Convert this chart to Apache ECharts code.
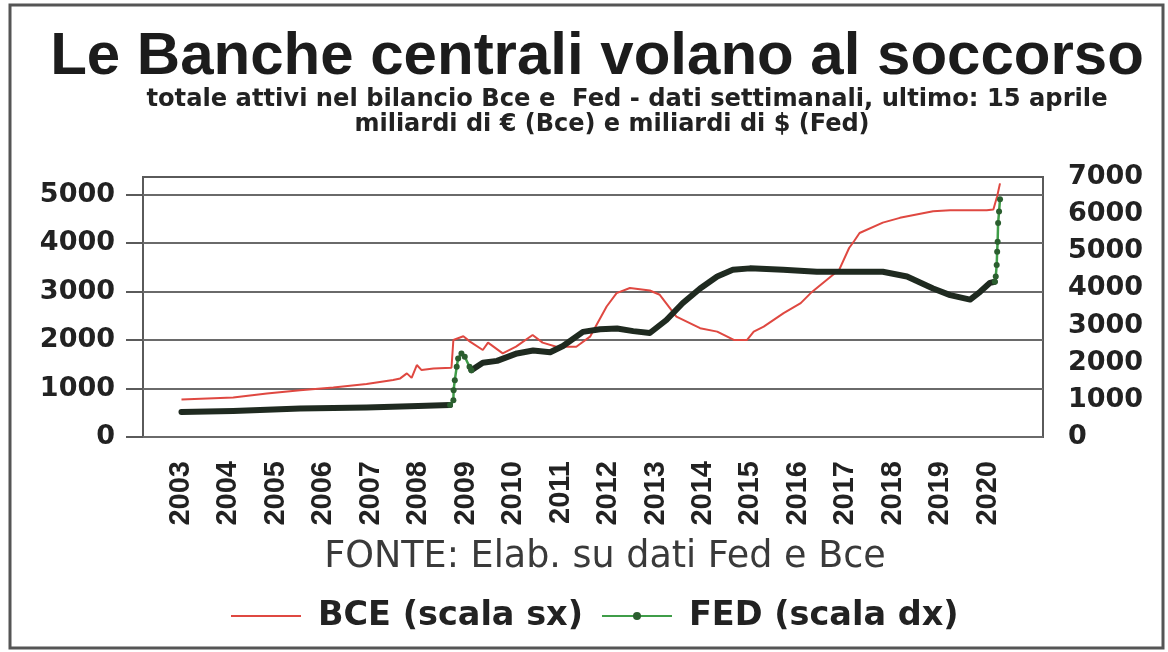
<!DOCTYPE html>
<html>
<head>
<meta charset="utf-8">
<title>Le Banche centrali volano al soccorso</title>
<script src="https://cdn.jsdelivr.net/npm/echarts@6/dist/echarts.min.js"></script>
<style>
  html, body { margin: 0; padding: 0; background: #fff; }
  #chart { width: 1168px; height: 652px; }
</style>
</head>
<body>
<div id="chart"></div>
<script>
// Etichette dell'asse x (anni) e dei due assi y
const yearTicks = [2003, 2004, 2005, 2006, 2007, 2008, 2009, 2010, 2011, 2012,
                   2013, 2014, 2015, 2016, 2017, 2018, 2019, 2020];
const leftTicks = [0, 1000, 2000, 3000, 4000, 5000];

// BCE - miliardi di euro (scala sx)
const bceYears = [2003.01, 2004.10, 2004.81, 2005.51, 2006.21, 2006.91, 2007.47, 2007.62, 2007.76, 2007.86,
                  2007.97, 2008.07, 2008.32, 2008.70, 2008.74, 2008.95, 2009.09, 2009.36, 2009.47, 2009.78,
                  2010.06, 2010.41, 2010.62, 2010.91, 2011.33, 2011.62, 2011.97, 2012.18, 2012.46, 2012.88,
                  2013.09, 2013.44, 2013.94, 2014.30, 2014.65, 2014.93, 2015.07, 2015.28, 2015.70, 2016.06,
                  2016.27, 2016.87, 2017.08, 2017.19, 2017.30, 2017.79, 2018.15, 2018.85, 2019.21, 2019.98,
                  2020.12, 2020.20, 2020.26];
const bceValues = [775, 816, 898, 967, 1023, 1092, 1175, 1209, 1313, 1220,
                   1485, 1381, 1416, 1430, 2003, 2080, 1968, 1796, 1947, 1727,
                   1864, 2106, 1947, 1864, 1864, 2071, 2693, 2970, 3074, 3024,
                   2935, 2486, 2245, 2175, 2003, 2003, 2175, 2278, 2556, 2763,
                   2970, 3450, 3900, 4050, 4210, 4425, 4523, 4660, 4681, 4681,
                   4695, 4970, 5234];

// FED - miliardi di dollari (scala dx), tratti piatti (banda scura)
const fedEarlyYears = [2003.01, 2004.10, 2005.51, 2006.91, 2008.00, 2008.67];
const fedEarlyValues = [675, 700, 765, 795, 835, 860];
const fedMidYears = [2009.12, 2009.36, 2009.66, 2010.08, 2010.42, 2010.78, 2011.05, 2011.47, 2011.83, 2012.19,
                     2012.53, 2012.88, 2013.23, 2013.57, 2013.94, 2014.30, 2014.63, 2014.99, 2015.69, 2016.40,
                     2017.10, 2017.79, 2018.30, 2018.85, 2019.21, 2019.63, 2019.84, 2020.05, 2020.15];
const fedMidValues = [1800, 2000, 2050, 2250, 2330, 2280, 2450, 2830, 2900, 2920,
                      2850, 2800, 3150, 3600, 4000, 4320, 4500, 4540, 4500, 4450,
                      4450, 4450, 4320, 4000, 3820, 3700, 3910, 4150, 4180];
// FED - salti settimanali del 2008 e del 2020
const fedJump08Years = [2008.67, 2008.74, 2008.745, 2008.77, 2008.81, 2008.84, 2008.91, 2008.98, 2009.08, 2009.12];
const fedJump08Values = [860, 990, 1260, 1530, 1889, 2115, 2250, 2159, 1889, 1800];
const fedJump20Years = [2020.15, 2020.17, 2020.19, 2020.20, 2020.21, 2020.22, 2020.24, 2020.26];
const fedJump20Values = [4180, 4320, 4630, 4990, 5260, 5760, 6070, 6400];

function pairs(xs, ys) {
    return xs.map((x, i) => [x, ys[i]]);
}

// numeri senza separatore delle migliaia
const plain = (v) => String(Math.round(v));

const chart = echarts.init(document.getElementById('chart'));

const boldWide = 'DejaVu Sans';
const FED_NAME = 'FED (scala dx)';
const BCE_NAME = 'BCE (scala sx)';

// stile comune dei tratti ripidi della Fed (linea verde con punti)
const jumpSeries = (data) => ({
    name: FED_NAME,
    type: 'line',
    yAxisIndex: 1,
    data: data,
    symbol: 'circle',
    symbolSize: 6,
    showAllSymbol: true,
    itemStyle: { color: '#2b5e2f' },
    lineStyle: { color: '#3f9d48', width: 2.5 },
    z: 4
});

// banda scura: i punti settimanali sovrapposti
const bandSeries = (data) => ({
    name: FED_NAME,
    type: 'line',
    yAxisIndex: 1,
    data: data,
    showSymbol: false,
    symbol: 'none',
    lineStyle: { color: '#1f2a20', width: 6, cap: 'round', join: 'round' },
    z: 3
});

const option = {
    animation: false,
    backgroundColor: '#fff',
    title: [
        {
            text: 'Le Banche centrali volano al soccorso',
            left: 592, top: 22, textAlign: 'center',
            textStyle: { fontFamily: 'Liberation Sans', fontWeight: 'bold', fontSize: 60, color: '#1c1c1c' }
        },
        {
            text: 'totale attivi nel bilancio Bce e  Fed - dati settimanali, ultimo: 15 aprile',
            left: 622, top: 83, textAlign: 'center',
            textStyle: { fontFamily: boldWide, fontWeight: 'bold', fontSize: 24.2, color: '#222' }
        },
        {
            text: 'miliardi di € (Bce) e miliardi di $ (Fed)',
            left: 607, top: 108, textAlign: 'center',
            textStyle: { fontFamily: boldWide, fontWeight: 'bold', fontSize: 24, color: '#222' }
        },
        {
            text: 'FONTE: Elab. su dati Fed e Bce',
            left: 600, top: 534, textAlign: 'center',
            textStyle: { fontFamily: boldWide, fontWeight: 'normal', fontSize: 36.5, color: '#3a3a3a' }
        }
    ],
    legend: {
        data: [
            { name: BCE_NAME, itemStyle: { opacity: 0 } },
            { name: FED_NAME }
        ],
        left: 225, top: 594,
        itemWidth: 70, itemHeight: 10, itemGap: 18,
        textStyle: { fontFamily: boldWide, fontWeight: 'bold', fontSize: 33.5, color: '#222', padding: [0, 0, 0, 12] }
    },
    grid: {
        left: 143, right: 125, top: 177, bottom: 215,
        show: true, borderColor: '#5a5a5a', borderWidth: 2,
        containLabel: false
    },
    xAxis: {
        type: 'value',
        min: 2002.199, max: 2021.166,
        axisLine: { show: false },
        axisTick: { show: false },
        splitLine: { show: false },
        axisLabel: {
            customValues: yearTicks,
            formatter: plain,
            rotate: 90, margin: 24,
            fontFamily: 'Liberation Sans', fontWeight: 'bold', fontSize: 29, color: '#222'
        }
    },
    yAxis: [
        {
            type: 'value',
            min: 0, max: 5366, interval: 1000,
            axisLine: { show: false },
            axisTick: { show: true, inside: false, length: 17, customValues: leftTicks,
                        lineStyle: { color: '#5a5a5a', width: 2 } },
            splitLine: { show: true, lineStyle: { color: '#6a6a6a', width: 2 } },
            axisLabel: {
                customValues: leftTicks, margin: 28,
                formatter: plain,
                fontFamily: boldWide, fontWeight: 'bold', fontSize: 27, color: '#222'
            }
        },
        {
            type: 'value',
            position: 'right',
            min: 0, max: 7000, interval: 1000,
            axisLine: { show: false },
            axisTick: { show: false },
            splitLine: { show: false },
            axisLabel: {
                margin: 25,
                formatter: plain,
                fontFamily: boldWide, fontWeight: 'bold', fontSize: 27, color: '#222'
            }
        }
    ],
    series: [
        {
            name: BCE_NAME,
            type: 'line',
            yAxisIndex: 0,
            data: pairs(bceYears, bceValues),
            symbol: 'none',
            lineStyle: { color: '#df4841', width: 2 },
            itemStyle: { color: '#df4841' },
            z: 2
        },
        jumpSeries(pairs(fedJump08Years, fedJump08Values)),
        bandSeries(pairs(fedEarlyYears, fedEarlyValues)),
        bandSeries(pairs(fedMidYears, fedMidValues)),
        jumpSeries(pairs(fedJump20Years, fedJump20Values))
    ],
    graphic: [
        {
            type: 'rect',
            shape: { x: 10, y: 5, width: 1153, height: 643 },
            style: { fill: 'none', stroke: '#555', lineWidth: 3 },
            silent: true
        }
    ]
};

chart.setOption(option);
</script>
</body>
</html>
